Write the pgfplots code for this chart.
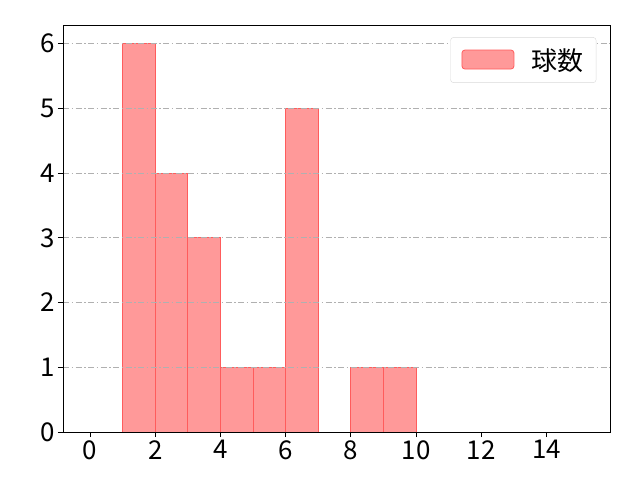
\documentclass[border=0pt]{standalone}
\usepackage{fontspec}
\setmainfont{Noto Sans CJK JP}
\usepackage{pgfplots}
\pgfplotsset{compat=1.18}
\definecolor{barfill}{HTML}{FF9999}
\definecolor{baredge}{HTML}{FF5C5C}
\definecolor{gridc}{HTML}{B0B0B0}
\begin{document}
\begin{tikzpicture}[x=1bp,y=1bp]
  \begin{axis}[
      scale only axis,
      width=547bp, height=407bp,
      xmin=-0.83, xmax=15.95,
      ymin=0, ymax=6.29,
      xtick={0,2,4,6,8,10,12,14},
      ytick={0,1,2,3,4,5,6},
      xtick pos=bottom, ytick pos=left,
      tick label style={font=\fontsize{26}{30}\selectfont},
      /pgf/number format/assume math mode=true,
      tick align=outside,
      major tick length=5bp,
      tick style={black, line width=0.8pt},
      axis line style={line width=0.8pt},
      ymajorgrids,
      grid style={gridc, line width=0.8pt, dash pattern=on 6bp off 2.5bp on 1.5bp off 2.5bp},
      axis on top,
      legend style={at={(0.975,0.97)}, anchor=north east, draw=black!15,
        rounded corners=3bp, inner xsep=11bp, inner ysep=9bp,
        font=\fontsize{26}{30}\selectfont},
    ]
    \addplot[ybar interval, fill=barfill, draw=baredge, line width=0.8pt,
      legend image code/.code={\draw[##1] (0bp,-9bp) rectangle (52bp,10bp);}]
      coordinates {(1,6) (2,4) (3,3) (4,1) (5,1) (6,5) (7,0) (8,1) (9,1) (10,1)};
    \addlegendentry{\hspace{15bp}球数}
  \end{axis}
  \path[use as bounding box] (-63bp,-48bp) rectangle (577bp,432bp);
\end{tikzpicture}
\end{document}
